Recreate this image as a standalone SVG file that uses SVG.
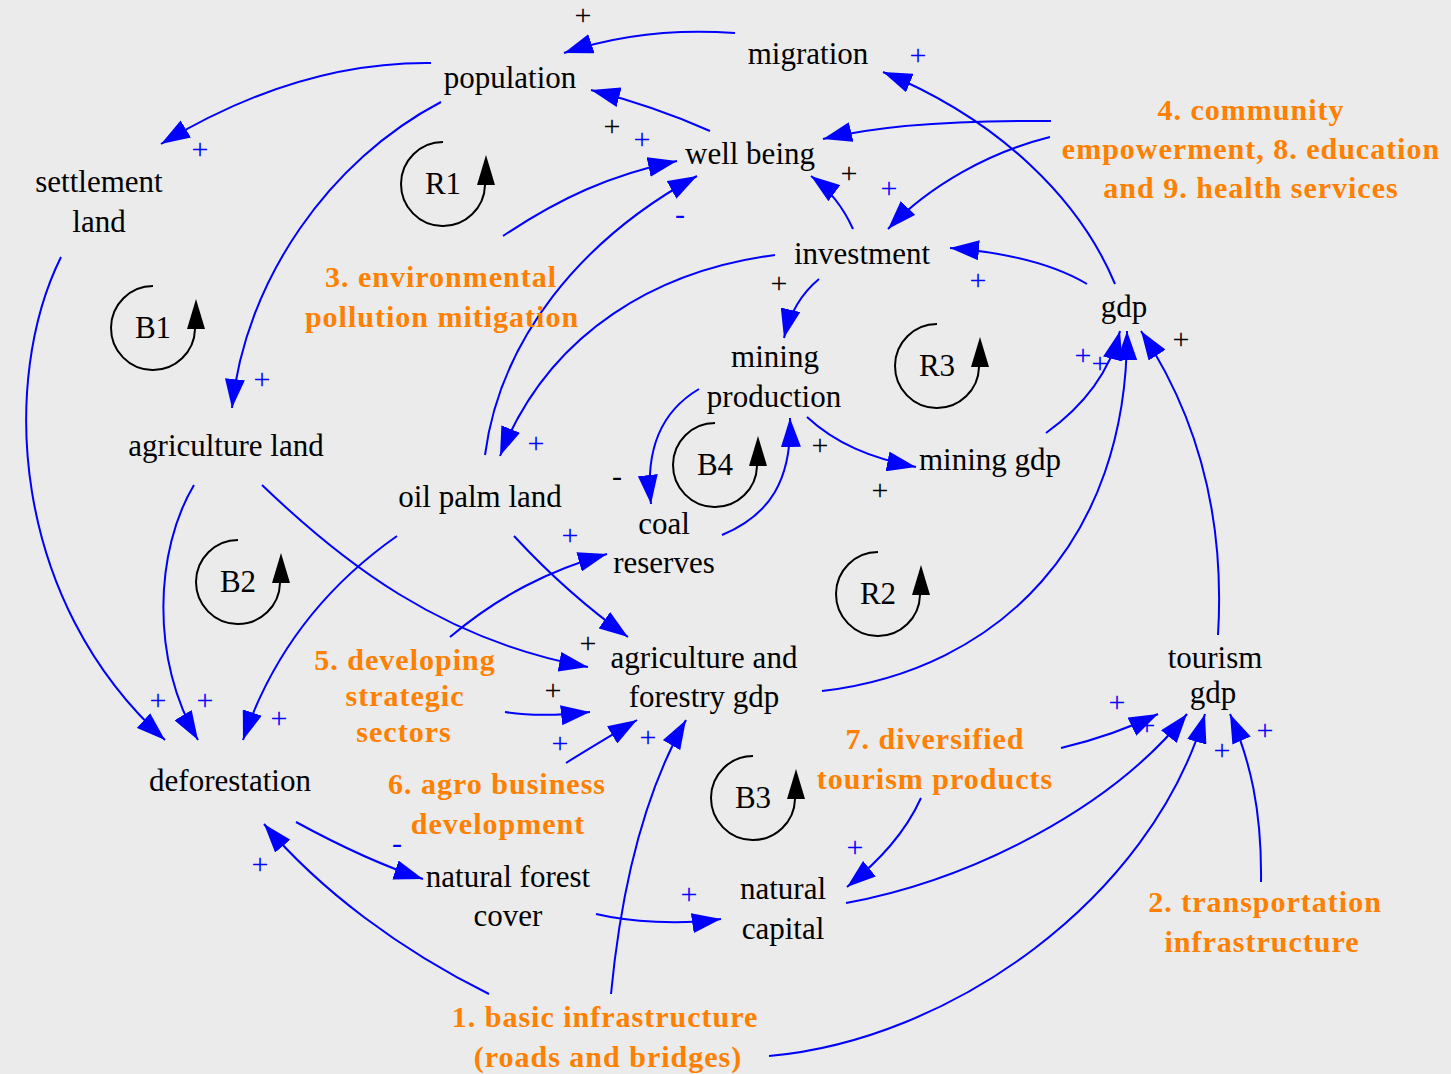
<svg xmlns="http://www.w3.org/2000/svg" width="1451" height="1074" viewBox="0 0 1451 1074">
  <style>
    .bg { fill: #ebebeb; }
    .var { font-family: "Liberation Serif", "Times New Roman", serif; font-size: 31px; fill: #000; text-anchor: middle; }
    .policy { font-family: "Liberation Serif", "Times New Roman", serif; font-size: 30px; font-weight: bold; letter-spacing: 1px; fill: #ff8000; text-anchor: middle; }
    .link { fill: none; stroke: #0000ff; stroke-width: 2; marker-end: url(#head); }
    .sign { font-family: "Liberation Serif", "Times New Roman", serif; font-size: 30px; text-anchor: middle; }
    .sb { fill: #0000ff; }
    .sk { fill: #000; }
    .loop-arc { fill: none; stroke: #000; stroke-width: 2; }
    .loop-head { fill: #000; }
  </style>
  <defs>
    <marker id="head" markerUnits="userSpaceOnUse" markerWidth="29" markerHeight="20" viewBox="0 0 29 20" refX="29" refY="10" orient="auto">
      <path d="M0,0 L29,10 L0,20 z" fill="#0000ff"/>
    </marker>
    <g id="loop">
      <path class="loop-arc" d="M0,-42 A42,42 0 1 0 42,1"/>
      <path class="loop-head" d="M43,-29 L34,1 L52,1 z"/>
    </g>
  </defs>

  <rect class="bg" x="0" y="0" width="1451" height="1074"/>

  <!-- polarity signs (drawn under the arrows) -->
  <g id="signs" class="sign">
    <text class="sb" x="200" y="159">+</text>
    <text class="sb" x="262" y="389">+</text>
    <text class="sb" x="642" y="149">+</text>
    <text class="sb" x="680" y="224">-</text>
    <text class="sb" x="918" y="65">+</text>
    <text class="sb" x="889" y="198">+</text>
    <text class="sb" x="978" y="290">+</text>
    <text class="sb" x="536" y="453">+</text>
    <text class="sb" x="1083" y="365">+</text>
    <text class="sb" x="1100" y="373">+</text>
    <text class="sb" x="205" y="710">+</text>
    <text class="sb" x="158" y="710">+</text>
    <text class="sb" x="279" y="728">+</text>
    <text class="sb" x="570" y="545">+</text>
    <text class="sb" x="560" y="753">+</text>
    <text class="sb" x="648" y="747">+</text>
    <text class="sb" x="260" y="874">+</text>
    <text class="sb" x="397" y="853">-</text>
    <text class="sb" x="689" y="904">+</text>
    <text class="sb" x="855" y="857">+</text>
    <text class="sb" x="1117" y="712">+</text>
    <text class="sb" x="1147" y="735">+</text>
    <text class="sb" x="1222" y="760">+</text>
    <text class="sb" x="1265" y="740">+</text>
    <text class="sk" x="583" y="25">+</text>
    <text class="sk" x="612" y="136">+</text>
    <text class="sk" x="849" y="183">+</text>
    <text class="sk" x="779" y="293">+</text>
    <text class="sk" x="617" y="486">-</text>
    <text class="sk" x="820" y="455">+</text>
    <text class="sk" x="880" y="500">+</text>
    <text class="sk" x="1181" y="349">+</text>
    <text class="sk" x="588" y="653">+</text>
    <text class="sk" x="553" y="700">+</text>
  </g>

  <!-- causal links -->
  <g id="connectors">
    <path class="link" d="M735,33 C680,29 620,34 564,53"/>
    <path class="link" d="M431,63 C340,62 250,90 161,144"/>
    <path class="link" d="M441,102 C330,160 245,280 232,408"/>
    <path class="link" d="M710,131 C672,114 630,100 591,90"/>
    <path class="link" d="M503,236 C560,198 610,175 677,161"/>
    <path class="link" d="M485,455 C500,340 580,240 697,176"/>
    <path class="link" d="M1051,121 C960,120 880,125 823,139"/>
    <path class="link" d="M1050,137 C990,152 930,185 888,229"/>
    <path class="link" d="M1115,284 C1080,200 1000,120 883,72"/>
    <path class="link" d="M853,229 C843,207 830,190 811,176"/>
    <path class="link" d="M1087,284 C1050,262 1000,252 950,248"/>
    <path class="link" d="M819,279 C802,293 790,312 784,338"/>
    <path class="link" d="M775,255 C660,270 550,330 500,456"/>
    <path class="link" d="M699,389 C660,412 645,450 651,504"/>
    <path class="link" d="M722,535 C770,515 792,480 790,418"/>
    <path class="link" d="M807,417 C835,443 870,458 916,467"/>
    <path class="link" d="M1046,433 C1085,405 1110,370 1120,331"/>
    <path class="link" d="M822,691 C1000,670 1128,540 1127,331"/>
    <path class="link" d="M1218,635 C1225,520 1200,420 1141,331"/>
    <path class="link" d="M194,485 C155,550 150,660 198,740"/>
    <path class="link" d="M61,257 C0,380 10,600 165,740"/>
    <path class="link" d="M397,536 C320,590 270,660 243,740"/>
    <path class="link" d="M262,485 C340,560 440,640 588,667"/>
    <path class="link" d="M514,536 C550,575 590,610 628,637"/>
    <path class="link" d="M450,637 C500,595 550,570 607,554"/>
    <path class="link" d="M505,712 C530,716 555,716 590,712"/>
    <path class="link" d="M566,763 C590,748 612,735 637,720"/>
    <path class="link" d="M611,994 C620,900 640,800 686,720"/>
    <path class="link" d="M489,994 C400,950 320,890 264,824"/>
    <path class="link" d="M296,822 C340,846 380,865 423,879"/>
    <path class="link" d="M596,914 C630,922 680,925 721,919"/>
    <path class="link" d="M921,798 C905,833 880,860 847,887"/>
    <path class="link" d="M1061,748 C1095,740 1125,730 1158,714"/>
    <path class="link" d="M846,903 C970,880 1110,810 1187,714"/>
    <path class="link" d="M769,1056 C950,1040 1150,900 1205,714"/>
    <path class="link" d="M1261,882 C1262,810 1250,760 1230,714"/>
  </g>

  <!-- variables -->
  <g id="population"><text class="var" x="510" y="88">population</text></g>
  <g id="migration"><text class="var" x="808" y="64">migration</text></g>
  <g id="well-being"><text class="var" x="750" y="164">well being</text></g>
  <g id="investment"><text class="var" x="862" y="264">investment</text></g>
  <g id="settlement-land"><text class="var" x="99" y="192">settlement</text><text class="var" x="99" y="232">land</text></g>
  <g id="gdp"><text class="var" x="1124" y="317">gdp</text></g>
  <g id="mining-production"><text class="var" x="775" y="367">mining</text><text class="var" x="774" y="407">production</text></g>
  <g id="agriculture-land"><text class="var" x="226" y="456">agriculture land</text></g>
  <g id="oil-palm-land"><text class="var" x="480" y="507">oil palm land</text></g>
  <g id="coal-reserves"><text class="var" x="664" y="534">coal</text><text class="var" x="664" y="573">reserves</text></g>
  <g id="mining-gdp"><text class="var" x="990" y="470">mining gdp</text></g>
  <g id="agri-forestry-gdp"><text class="var" x="704" y="668">agriculture and</text><text class="var" x="704" y="707">forestry gdp</text></g>
  <g id="tourism-gdp"><text class="var" x="1215" y="668">tourism</text><text class="var" x="1213" y="703">gdp</text></g>
  <g id="deforestation"><text class="var" x="230" y="791">deforestation</text></g>
  <g id="natural-forest-cover"><text class="var" x="508" y="887">natural forest</text><text class="var" x="508" y="926">cover</text></g>
  <g id="natural-capital"><text class="var" x="783" y="899">natural</text><text class="var" x="783" y="939">capital</text></g>

  <!-- policy levers -->
  <g id="policy-3"><text class="policy" x="441" y="287">3. environmental</text><text class="policy" x="442" y="327">pollution mitigation</text></g>
  <g id="policy-4-8-9"><text class="policy" x="1251" y="120">4. community</text><text class="policy" x="1251" y="159">empowerment, 8. education</text><text class="policy" x="1251" y="198">and 9. health services</text></g>
  <g id="policy-5"><text class="policy" x="405" y="670">5. developing</text><text class="policy" x="405" y="706">strategic</text><text class="policy" x="404" y="742">sectors</text></g>
  <g id="policy-6"><text class="policy" x="497" y="794">6. agro business</text><text class="policy" x="498" y="834">development</text></g>
  <g id="policy-7"><text class="policy" x="935" y="749">7. diversified</text><text class="policy" x="935" y="789">tourism products</text></g>
  <g id="policy-2"><text class="policy" x="1265" y="912">2. transportation</text><text class="policy" x="1262" y="952">infrastructure</text></g>
  <g id="policy-1"><text class="policy" x="605" y="1027">1. basic infrastructure</text><text class="policy" x="608" y="1067">(roads and bridges)</text></g>

  <!-- loop identifiers -->
  <g id="loop-R1"><use href="#loop" x="443" y="184"/><text class="var" x="443" y="194">R1</text></g>
  <g id="loop-B1"><use href="#loop" x="153" y="328"/><text class="var" x="153" y="338">B1</text></g>
  <g id="loop-B2"><use href="#loop" x="238" y="582"/><text class="var" x="238" y="592">B2</text></g>
  <g id="loop-B4"><use href="#loop" x="715" y="465"/><text class="var" x="715" y="475">B4</text></g>
  <g id="loop-R2"><use href="#loop" x="878" y="594"/><text class="var" x="878" y="604">R2</text></g>
  <g id="loop-R3"><use href="#loop" x="937" y="366"/><text class="var" x="937" y="376">R3</text></g>
  <g id="loop-B3"><use href="#loop" x="753" y="798"/><text class="var" x="753" y="808">B3</text></g>
</svg>
